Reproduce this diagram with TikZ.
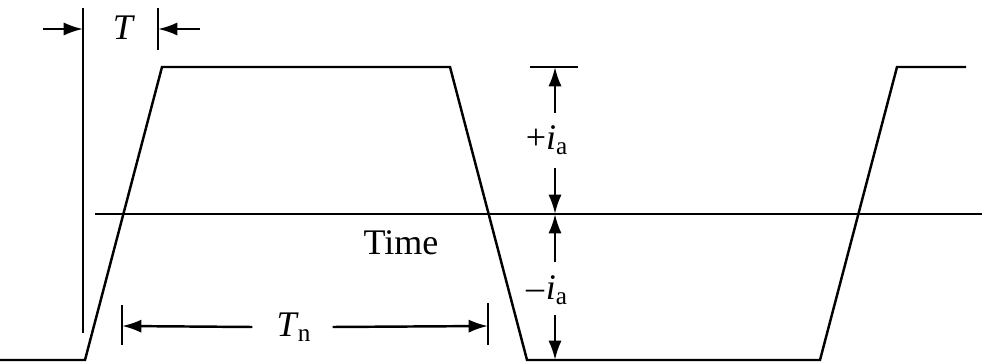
\documentclass[tikz,border=0pt]{standalone}
\usepackage{fontspec}
\setmainfont{Liberation Serif}
\usetikzlibrary{arrows.meta}
\begin{document}
\begin{tikzpicture}[x=0.02cm,y=-0.02cm,line width=1.4pt,
  dim/.style={-{Latex[length=11pt,width=7.5pt]}},
  lbl/.style={font=\fontsize{20.5}{24}\selectfont,inner sep=0pt}]
\useasboundingbox (0,0) rectangle (982,364);
% waveform
\coordinate (w0) at (0,360);
\coordinate (w1) at (85,360);
\coordinate (w2) at (162,67);
\coordinate (w3) at (450,67);
\coordinate (w4) at (527,360);
\coordinate (w5) at (820,360);
\coordinate (w6) at (897,67);
\coordinate (w7) at (966,67);
\draw (w0) -- (w1) -- (w2) -- (w3) -- (w4) -- (w5) -- (w6) -- (w7);
% time axis
\coordinate (ax0) at (95,214);
\coordinate (ax1) at (982,214);
\draw (ax0) -- (ax1);
\node[lbl] (time) at (401,243) {Time};
% T marker
\coordinate (v1t) at (83,8);
\coordinate (v1b) at (83,333);
\draw (v1t) -- (v1b);
\coordinate (v2t) at (158,8);
\coordinate (v2b) at (158,50);
\draw (v2t) -- (v2b);
\coordinate (a1s) at (43,29);
\coordinate (a1e) at (83,29);
\coordinate (a2s) at (200,29);
\coordinate (a2e) at (158,29);
\draw[dim] (a1s) -- (a1e);
\draw[dim] (a2s) -- (a2e);
\node[lbl] (T) at (124,28) {\textit{T}};
% Tn marker
\coordinate (t1t) at (122,305);
\coordinate (t1b) at (122,345);
\coordinate (t2t) at (488,303);
\coordinate (t2b) at (488,345);
\draw (t1t) -- (t1b);
\draw (t2t) -- (t2b);
\node[lbl] (Tn) at (294,327) {\textit{T}\textsubscript{\kern-0.5pt n}};
\coordinate (tl) at (122,326);
\coordinate (tr) at (488,326);
\draw[dim] (Tn.west) ++(-23,0) -- (tl);
\draw[dim] (Tn.east) ++(20,0) -- (tr);
% ia markers
\coordinate (it0) at (530,67);
\coordinate (it1) at (578,67);
\draw (it0) -- (it1);
\node[lbl] (pia) at (547,140) {+\textit{i}\textsubscript{a}};
\node[lbl] (mia) at (547,290) {\textendash\kern1pt\textit{i}\textsubscript{a}};
\coordinate (top) at (555,67);
\coordinate (mid) at (555,214);
\coordinate (bot) at (555,360);
\coordinate (p1) at (555,113);
\coordinate (p2) at (555,168);
\coordinate (p3) at (555,262);
\coordinate (p4) at (555,315);
\draw[dim] (p1) -- (top);
\draw[dim] (p2) -- (mid);
\draw[dim] (p3) -- (mid);
\draw[dim] (p4) -- (bot);
\end{tikzpicture}
\end{document}
